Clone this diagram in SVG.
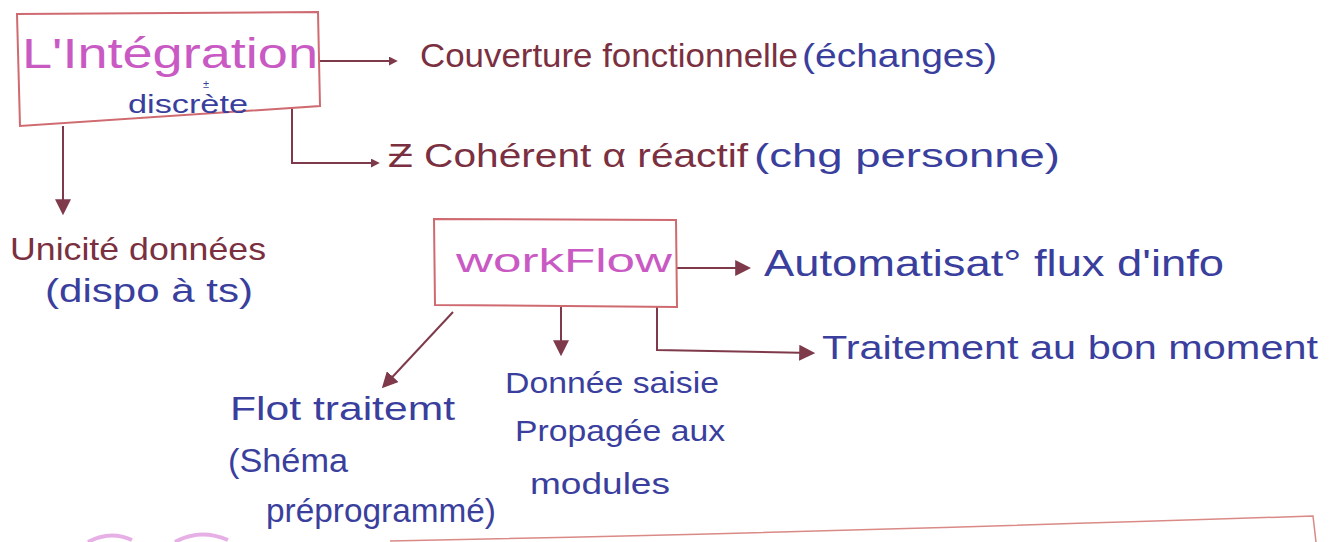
<svg xmlns="http://www.w3.org/2000/svg" width="1335" height="542" viewBox="0 0 1335 542">
<style>
.box{fill:none;stroke:#cf6a70;stroke-width:2}
.con{fill:none;stroke:#7e3a4a;stroke-width:2}
.t{font-family:"Liberation Sans","DejaVu Sans",sans-serif;font-weight:normal}
.blue{fill:#3a3f9e}
.maroon{fill:#7a3040}
.pink{fill:#c95ac4}
</style>
<defs>
<marker id="ah" viewBox="0 0 10 10" refX="8" refY="5" markerWidth="9" markerHeight="9" markerUnits="userSpaceOnUse" orient="auto">
<path d="M0,0 L10,5 L0,10 z" fill="#7e3a4a"/>
</marker>
<marker id="ahl" viewBox="0 0 10 10" refX="8" refY="5" markerWidth="16" markerHeight="16" markerUnits="userSpaceOnUse" orient="auto">
<path d="M0,0 L10,5 L0,10 z" fill="#7e3a4a"/>
</marker>
</defs>
<rect width="1335" height="542" fill="#ffffff"/>

<g id="connectors">
<path class="con" d="M320,61 L396,61" marker-end="url(#ah)"/>
<path class="con" d="M292,107 L292,163 L378,163" marker-end="url(#ah)"/>
<path class="con" d="M63,126 L63,212" marker-end="url(#ahl)"/>
<path class="con" d="M677,268 L748,268" marker-end="url(#ahl)"/>
<path class="con" d="M657,307 L657,350 L812,353" marker-end="url(#ahl)"/>
<path class="con" d="M561,307 L561,353" marker-end="url(#ahl)"/>
<path class="con" d="M453,312 L384,386" marker-end="url(#ahl)"/>
</g>

<g id="integration">
<path class="box" d="M17,14 L318,12 L320,106 L20,126 Z"/>
<text class="t pink" x="22" y="68" font-size="42" textLength="296" lengthAdjust="spacingAndGlyphs">L'Intégration</text>
<text class="t blue" x="203" y="88" font-size="11">±</text>
<text class="t blue" x="128" y="113" font-size="25" textLength="120" lengthAdjust="spacingAndGlyphs">discrète</text>
</g>

<g id="couverture">
<text class="t maroon" x="420" y="67" font-size="34" textLength="378" lengthAdjust="spacingAndGlyphs">Couverture fonctionnelle</text>
<text class="t blue" x="802" y="67" font-size="34" textLength="195" lengthAdjust="spacingAndGlyphs">(échanges)</text>
</g>

<g id="coherent">
<text class="t maroon" x="388" y="167" font-size="34" textLength="360" lengthAdjust="spacingAndGlyphs">Ƶ Cohérent α réactif</text>
<text class="t blue" x="754" y="167" font-size="34" textLength="306" lengthAdjust="spacingAndGlyphs">(chg personne)</text>
</g>

<g id="unicite">
<text class="t maroon" x="10" y="260" font-size="32" textLength="256" lengthAdjust="spacingAndGlyphs">Unicité données</text>
<text class="t blue" x="45" y="302" font-size="34" textLength="208" lengthAdjust="spacingAndGlyphs">(dispo à ts)</text>
</g>

<g id="workflow">
<path class="box" d="M434,219 L676,220 L677,307 L435,305 Z"/>
<text class="t pink" x="456" y="272" font-size="34" textLength="216" lengthAdjust="spacingAndGlyphs">workFlow</text>
</g>

<g id="automatisation">
<text class="t blue" x="764" y="276" font-size="36" textLength="460" lengthAdjust="spacingAndGlyphs">Automatisat° flux d'info</text>
</g>

<g id="traitement">
<text class="t blue" x="822" y="359" font-size="34" textLength="496" lengthAdjust="spacingAndGlyphs">Traitement au bon moment</text>
</g>

<g id="donnee">
<text class="t blue" x="505" y="393" font-size="30" textLength="214" lengthAdjust="spacingAndGlyphs">Donnée saisie</text>
<text class="t blue" x="515" y="441" font-size="30" textLength="210" lengthAdjust="spacingAndGlyphs">Propagée aux</text>
<text class="t blue" x="530" y="494" font-size="30" textLength="140" lengthAdjust="spacingAndGlyphs">modules</text>
</g>

<g id="flot">
<text class="t blue" x="230" y="420" font-size="34" textLength="225" lengthAdjust="spacingAndGlyphs">Flot traitemt</text>
<text class="t blue" x="228" y="472" font-size="34" textLength="120" lengthAdjust="spacingAndGlyphs">(Shéma</text>
<text class="t blue" x="266" y="522" font-size="34" textLength="230" lengthAdjust="spacingAndGlyphs">préprogrammé)</text>
</g>

<g id="next-section">
<path d="M390,541 Q800,533 1313,516 L1316,542" fill="none" stroke="#d98a86" stroke-width="1.5"/>
<path d="M88,542 Q110,530 132,540" fill="none" stroke="#e6b0e6" stroke-width="4"/>
<path d="M175,542 Q200,528 228,540" fill="none" stroke="#e6b0e6" stroke-width="4"/>
</g>
</svg>
